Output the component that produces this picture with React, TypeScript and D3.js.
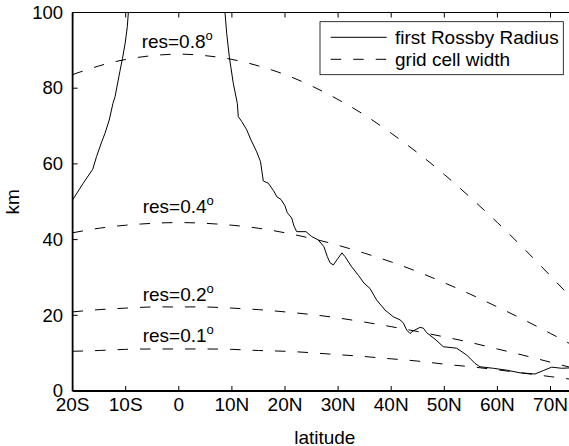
import React from "react";
import * as d3 from "d3";

// Latitude grid for the grid-cell-width curves (negative = S)
const gridLat = [-20, -15, -10, -5, 0, 5, 10, 15, 20, 25, 30, 35, 40, 45, 50, 55, 60, 65, 70, 75];
const res08 = [83.6, 85.9, 87.6, 88.6, 89.0, 88.6, 87.6, 85.9, 83.6, 80.6, 77.0, 72.9, 68.1, 62.9, 57.2, 51.0, 44.5, 37.6, 30.4, 23.0];
const res04 = [41.8, 43.0, 43.8, 44.3, 44.5, 44.3, 43.8, 43.0, 41.8, 40.3, 38.5, 36.4, 34.1, 31.5, 28.6, 25.5, 22.2, 18.8, 15.2, 11.5];
const res02 = [20.9, 21.5, 21.9, 22.2, 22.2, 22.2, 21.9, 21.5, 20.9, 20.2, 19.3, 18.2, 17.0, 15.7, 14.3, 12.8, 11.1, 9.4, 7.6, 5.8];
const res01 = [10.5, 10.7, 11.0, 11.1, 11.1, 11.1, 11.0, 10.7, 10.5, 10.1, 9.6, 9.1, 8.5, 7.9, 7.1, 6.4, 5.6, 4.7, 3.8, 2.9];

// First Rossby radius, southern branch
const rossbySLat = [-20, -18.0, -16.2, -15.5, -14.5, -13.9, -13.1, -12.4, -12.0, -11.1, -10.6, -10.1, -9.7, -9.5, -9.3];
const rossbySKm = [50.5, 54.9, 58.6, 61.9, 65.9, 68.1, 71.6, 76.0, 77.8, 84.4, 87.9, 91.9, 96.2, 100.0, 104];
// First Rossby radius, northern branch
const rossbyNLat = [8.6, 8.7, 9.02, 9.51, 10.26, 11.02, 11.2, 11.85, 12.79, 13.6, 14.67, 15.39, 15.91, 16.85, 17.8, 18.49, 19.25, 20.0, 20.43, 21.26, 21.69, 22.2, 23.95, 25.03, 26.27, 27.34, 27.97, 28.47, 29.1, 29.85, 30.73, 31.3, 32.56, 33.8, 34.88, 36.0, 37.27, 38.83, 40.4, 41.66, 42.28, 42.92, 43.54, 44.16, 45.42, 46.05, 46.69, 48.25, 49.81, 52.34, 54.22, 55.78, 56.72, 59.23, 61.75, 64.26, 67.08, 68.64, 70.23, 72.1, 73.6];
const rossbyNKm = [104, 100.0, 94.5, 88.3, 81.3, 76.0, 72.5, 71.2, 69.0, 66.3, 63.2, 60.6, 55.5, 54.9, 53.0, 51.3, 50.6, 48.9, 47.1, 45.7, 43.6, 42.1, 42.1, 40.8, 39.9, 38.1, 35.5, 33.9, 33.3, 34.8, 36.5, 35.5, 32.8, 30.6, 28.5, 27.1, 24.0, 21.4, 19.6, 18.8, 18.0, 16.1, 15.2, 15.9, 16.8, 16.6, 15.4, 13.7, 11.7, 11.3, 9.5, 7.3, 6.4, 6.0, 5.5, 4.8, 4.5, 5.4, 6.3, 6.0, 6.1];

const xTicks = [-20, -10, 0, 10, 20, 30, 40, 50, 60, 70];
const xTickLabels = ["20S", "10S", "0", "10N", "20N", "30N", "40N", "50N", "60N", "70N"];
const yTicks = [0, 20, 40, 60, 80, 100];

const resLabels = ["res=0.8", "res=0.4", "res=0.2", "res=0.1"];
const resLabelLat = [-7.0, -6.8, -6.8, -6.8];
const resLabelKm = [90.5, 47.0, 23.8, 13.0];

const legendLabels = ["first Rossby Radius", "grid cell width"];

const W = 569;
const H = 446;
const L = 72.6;
const T = 12.5;
const B = 391;
const R = L + 95 * 5.31;
const FONT = "'Liberation Sans', Arial, Helvetica, sans-serif";

export default function App() {
  const x = d3.scaleLinear().domain([-20, 75]).range([L, R]);
  const y = d3.scaleLinear().domain([0, 100]).range([B, T]);

  const smooth = d3
    .line<[number, number]>()
    .x((d) => x(d[0]))
    .y((d) => y(d[1]))
    .curve(d3.curveNatural);
  const raw = d3
    .line<[number, number]>()
    .x((d) => x(d[0]))
    .y((d) => y(d[1]));

  const gridSeries = [res08, res04, res02, res01].map((vals) =>
    smooth(gridLat.map((la, i) => [la, vals[i]] as [number, number]))
  );
  const rossS = raw(rossbySLat.map((la, i) => [la, rossbySKm[i]] as [number, number]));
  const rossN = raw(rossbyNLat.map((la, i) => [la, rossbyNKm[i]] as [number, number]));

  const dash = "10.5,12";
  const tick = 5;

  return (
    <svg
      width={W}
      height={H}
      style={{ position: "absolute", left: 0, top: 0, background: "#fff" }}
      fontFamily={FONT}
    >
      <rect x={0} y={0} width={W} height={H} fill="#fff" />
      <defs>
        <clipPath id="plot">
          <rect x={L} y={T} width={R - L} height={B - T} />
        </clipPath>
      </defs>

      <g clipPath="url(#plot)" fill="none" stroke="#000">
        {gridSeries.map((d, i) => (
          <path key={i} d={d || ""} strokeWidth={1} strokeDasharray={dash} />
        ))}
        <path d={rossS || ""} strokeWidth={1} />
        <path d={rossN || ""} strokeWidth={1} />
      </g>

      {/* axes */}
      <g stroke="#000" fill="none">
        <line x1={L} x2={R} y1={B} y2={B} strokeWidth={1.8} />
        <line x1={L} x2={R} y1={T} y2={T} strokeWidth={1} />
        <line x1={L} x2={L} y1={T} y2={B} strokeWidth={1.8} />
        {xTicks.map((t) => (
          <g key={t}>
            <line x1={x(t)} x2={x(t)} y1={B} y2={B - tick} strokeWidth={1} />
            <line x1={x(t)} x2={x(t)} y1={T} y2={T + tick} strokeWidth={1} />
          </g>
        ))}
        {yTicks.map((t) => (
          <line key={t} x1={L} x2={L + tick} y1={y(t)} y2={y(t)} strokeWidth={1} />
        ))}
      </g>

      <g fontSize={19} fill="#000">
        {xTicks.map((t, i) => (
          <text key={t} x={x(t)} y={410.5} textAnchor="middle">
            {xTickLabels[i]}
          </text>
        ))}
        {yTicks.map((t) => (
          <text key={t} x={63} y={y(t) + 6.2} textAnchor="end" fontSize={18.5}>
            {t}
          </text>
        ))}
        <text x={(L + R) / 2} y={443.5} textAnchor="middle">
          latitude
        </text>
        <text transform={`translate(18.5, ${(T + B) / 2}) rotate(-90)`} textAnchor="middle">
          km
        </text>
        {resLabels.map((s, i) => (
          <text key={s} x={x(resLabelLat[i])} y={y(resLabelKm[i])}>
            {s}
            <tspan fontSize={13} dy={-8}>o</tspan>
          </text>
        ))}
      </g>

      {/* legend */}
      <g>
        <rect x={320} y={21.7} width={243.3} height={53} fill="#fff" stroke="#000" strokeWidth={0.8} />
        <line x1={330.7} x2={386.7} y1={37.3} y2={37.3} stroke="#000" strokeWidth={1} />
        <line x1={330.7} x2={386.7} y1={59.3} y2={59.3} stroke="#000" strokeWidth={1} strokeDasharray={dash} />
        <text x={395} y={43.8} fontSize={19}>
          {legendLabels[0]}
        </text>
        <text x={395} y={65.8} fontSize={19}>
          {legendLabels[1]}
        </text>
      </g>
    </svg>
  );
}
